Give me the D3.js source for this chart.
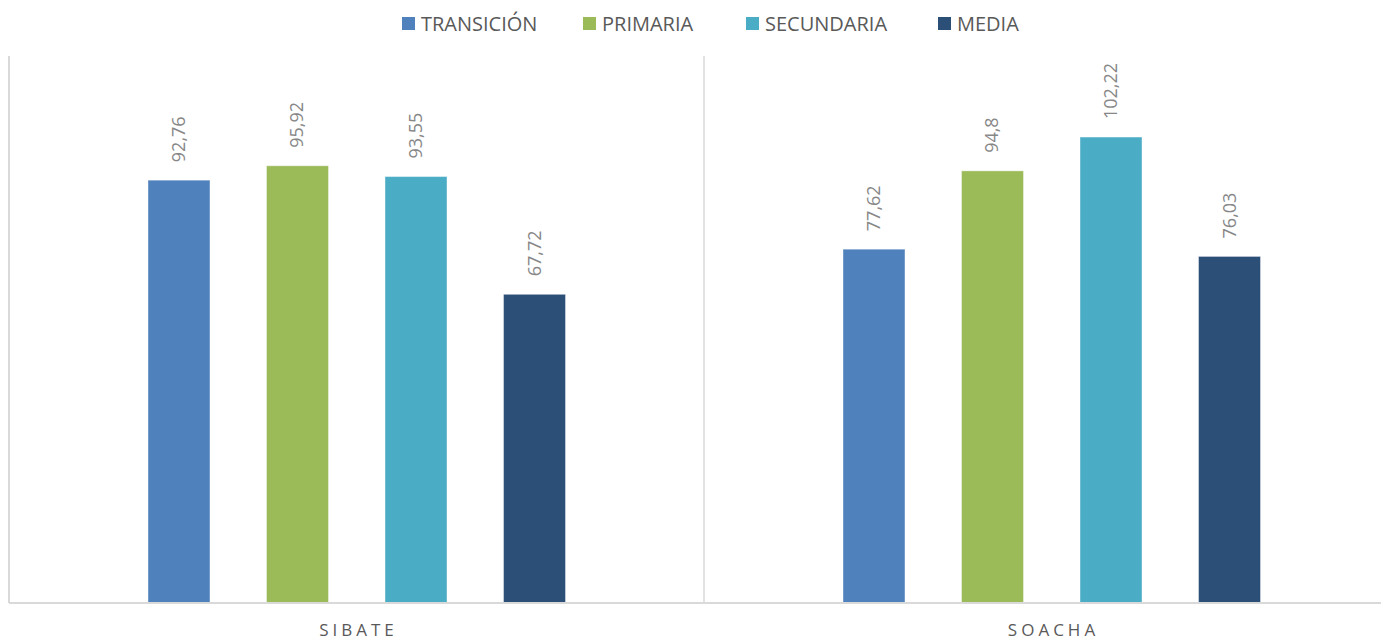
<!DOCTYPE html>
<html><head><meta charset="utf-8">
<script src="https://cdn.jsdelivr.net/npm/d3@7"></script>
<style>body{margin:0;background:#fff}svg{display:block}</style>
</head><body>
<script>
const categories = ["SIBATE", "SOACHA"];
const series = ["TRANSICIÓN", "PRIMARIA", "SECUNDARIA", "MEDIA"];
const transicion = [92.76, 77.62];
const primaria = [95.92, 94.8];
const secundaria = [93.55, 102.22];
const media = [67.72, 76.03];
const labels = [["92,76","77,62"],["95,92","94,8"],["93,55","102,22"],["67,72","76,03"]];
const colors = ["#4f81bd", "#9bbb59", "#4bacc6", "#2c4f78"];
const values = [transicion, primaria, secundaria, media];

const W = 1381, H = 641;
const svg = d3.select("body").append("svg").attr("width", W).attr("height", H);
const font = "'Open Sans', 'Noto Sans', sans-serif";

const x0 = d3.scaleBand().domain(categories).range([9, 1399]).paddingInner(0).paddingOuter(0);
const x1 = d3.scaleBand().domain(series).range([139, 556.5]).paddingInner(0.477).paddingOuter(0);
const y = d3.scaleLinear().domain([0, 120]).range([603, 56]);

// axis lines
svg.append("line").attr("x1", 9).attr("x2", 9).attr("y1", 56).attr("y2", 603).attr("stroke", "#d9d9d9").attr("stroke-width", 2);
svg.append("line").attr("x1", x0("SOACHA")).attr("x2", x0("SOACHA")).attr("y1", 56).attr("y2", 603).attr("stroke", "#d9d9d9").attr("stroke-width", 1.5);

series.forEach((s, si) => {
  categories.forEach((c, ci) => {
    const v = values[si][ci];
    const bx = x0(c) + x1(s);
    svg.append("rect").attr("x", bx).attr("y", y(v)).attr("width", x1.bandwidth()).attr("height", y(0) - y(v))
      .attr("fill", colors[si]).attr("stroke", "#fff").attr("stroke-opacity", 0.4).attr("stroke-width", 1);
    const cx = bx + x1.bandwidth() / 2, cy = y(v) - 18;
    svg.append("text").attr("transform", `translate(${cx + 6},${cy}) rotate(-90)`)
      .attr("font-family", font).attr("font-size", 18).attr("fill", "#878787")
      .text(labels[si][ci]);
  });
});

svg.append("line").attr("x1", 9).attr("x2", W).attr("y1", 603).attr("y2", 603).attr("stroke", "#d9d9d9").attr("stroke-width", 2);

categories.forEach(c => {
  svg.append("text").attr("x", x0(c) + x0.bandwidth() / 2 + 2).attr("y", 636).attr("text-anchor", "middle")
    .attr("font-family", font).attr("font-size", 17).attr("letter-spacing", "4px").attr("fill", "#595959").text(c);
});

// legend
const legX = [402, 583, 746, 938];
series.forEach((s, i) => {
  svg.append("rect").attr("x", legX[i]).attr("y", 17).attr("width", 13).attr("height", 13).attr("fill", colors[i]);
  svg.append("text").attr("x", legX[i] + 19).attr("y", 31).attr("font-family", font).attr("font-size", 20)
    .attr("fill", "#595959").text(s);
});
</script>
</body></html>
